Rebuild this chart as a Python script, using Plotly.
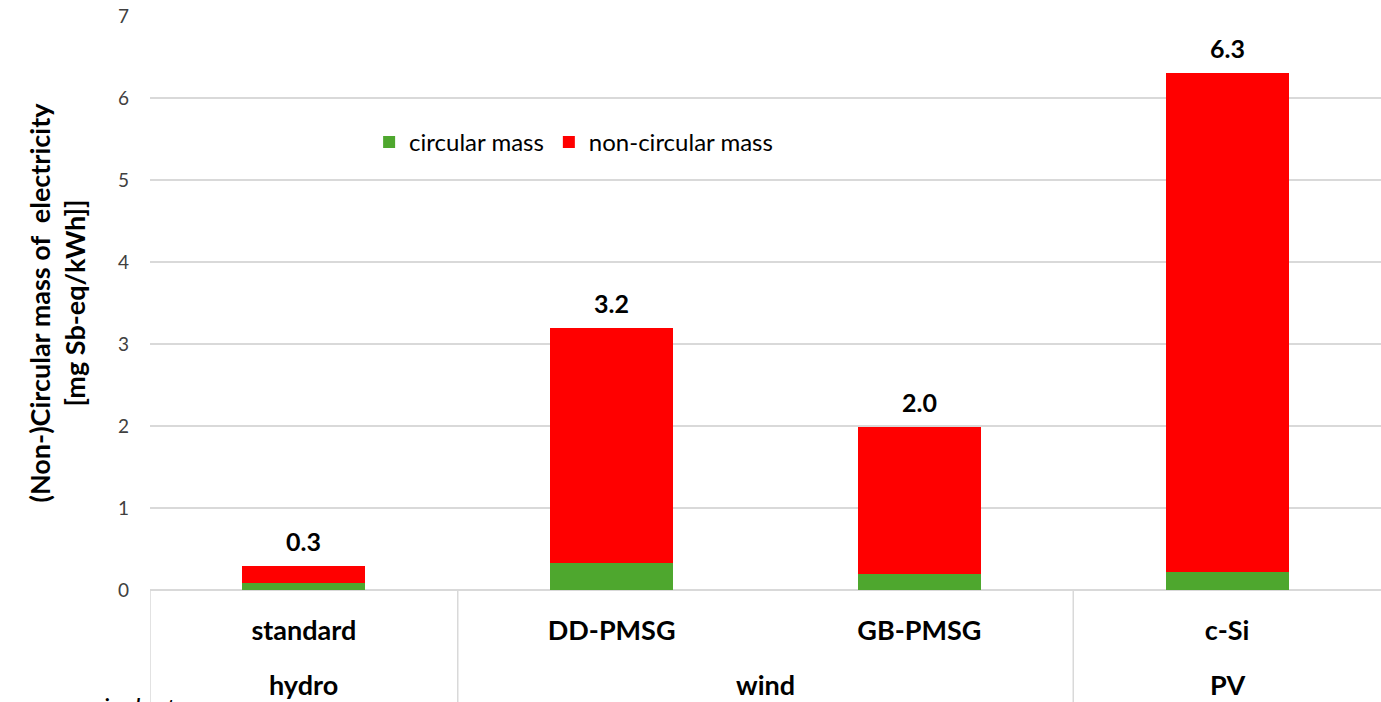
import plotly.graph_objects as go

# Technologies (inner labels) and their groups (outer labels)
technologies = ["standard", "DD-PMSG", "GB-PMSG", "c-Si"]
groups = ["hydro", "wind", "wind", "PV"]
group_names = ["hydro", "wind", "PV"]
group_centers = [0, 1.5, 3]          # category positions of the group labels
group_dividers = [-0.5, 0.5, 2.5]    # category boundaries between groups

# mg Sb-eq per kWh
circular_mass = [0.09, 0.33, 0.19, 0.22]
non_circular_mass = [0.20, 2.87, 1.80, 6.09]
totals = [c + n for c, n in zip(circular_mass, non_circular_mass)]

y_ticks = [0, 1, 2, 3, 4, 5, 6, 7]

GREEN = "#4ea72e"
RED = "#ff0000"
GRID = "#d9d9d9"
FONT = "Lato, Open Sans, sans-serif"

fig = go.Figure()
fig.add_trace(go.Bar(x=technologies, y=circular_mass, name="circular mass",
                     marker=dict(color=GREEN, line=dict(width=0))))
fig.add_trace(go.Bar(x=technologies, y=non_circular_mass, name="non-circular mass",
                     marker=dict(color=RED, line=dict(width=0))))

annotations = []
# total value above each stacked bar
for tech, tot in zip(technologies, totals):
    annotations.append(dict(x=tech, y=tot, xref="x", yref="y", text=f"<b>{tot:.1f}</b>",
                            showarrow=False, yanchor="bottom", yshift=8,
                            font=dict(family=FONT, size=25, color="#000000")))
# group labels on the second row of the category axis
for name, pos in zip(group_names, group_centers):
    annotations.append(dict(x=pos, y=-0.165, xref="x", yref="paper", text=f"<b>{name}</b>",
                            showarrow=False, yanchor="middle",
                            font=dict(family=FONT, size=27, color="#000000")))
# footnote running off the bottom edge
annotations.append(dict(x=-0.121, y=-0.203, xref="paper", yref="paper", text="<i>mass equivalent</i>",
                        showarrow=False, xanchor="left", yanchor="middle",
                        font=dict(family=FONT, size=26, color="#000000")))

shapes = []
for d in group_dividers:
    shapes.append(dict(type="line", xref="x", yref="paper", x0=d, x1=d, y0=0, y1=-0.25,
                       line=dict(color=GRID, width=1.5)))

fig.update_layout(
    width=1381, height=702,
    margin=dict(l=150, r=0, t=16, b=112),
    paper_bgcolor="white", plot_bgcolor="white",
    barmode="stack", bargap=0.6,
    font=dict(family=FONT, color="#000000"),
    legend=dict(orientation="h", x=0.178, y=0.78, xanchor="left", yanchor="middle",
                font=dict(family=FONT, size=24, color="#000000"), bgcolor="rgba(0,0,0,0)",
                traceorder="normal"),
    annotations=annotations,
    shapes=shapes,
    showlegend=True,
)
fig.update_xaxes(
    type="category", range=[-0.5, 3.5],
    showgrid=False, showline=False, zeroline=False, ticks="",
    tickfont=dict(family=FONT, size=27, color="#000000"),
    ticktext=[f"<b>{t}</b>" for t in technologies], tickvals=technologies,
    ticklabelstandoff=22,
)
fig.update_yaxes(
    range=[0, 7], tickvals=y_ticks,
    showgrid=True, gridcolor=GRID, gridwidth=1.5,
    zeroline=True, zerolinecolor=GRID, zerolinewidth=1.5,
    showline=False, ticks="",
    tickfont=dict(family=FONT, size=19, color="#404040"),
    ticklabelstandoff=20,
    title=dict(text="<b>(Non-)Circular mass of  electricity<br>[mg Sb-eq/kWh]]</b>",
               font=dict(family=FONT, size=27, color="#000000"), standoff=24),
)

fig.write_html("out.html")
